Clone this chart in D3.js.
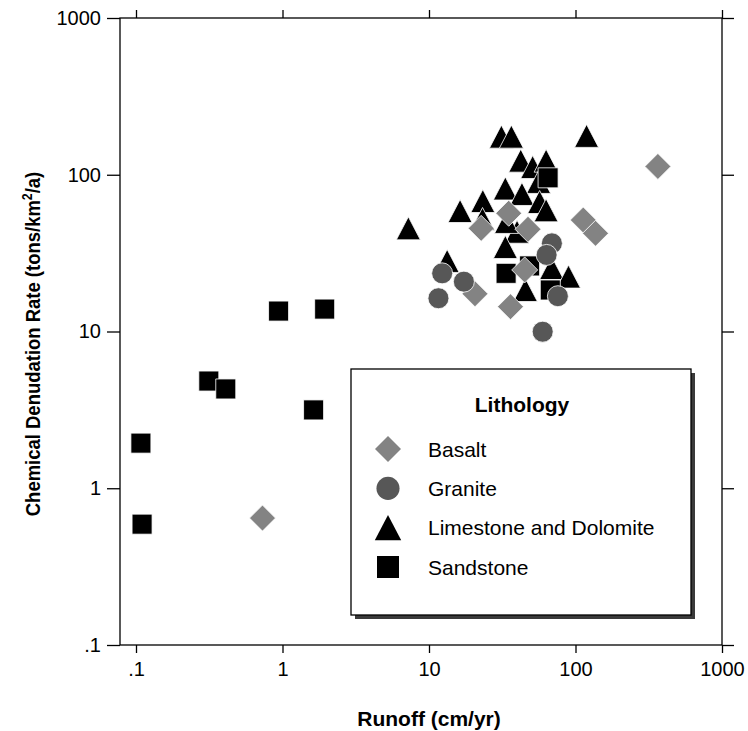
<!DOCTYPE html>
<html>
<head>
<meta charset="utf-8">
<script src="https://cdn.jsdelivr.net/npm/d3@7"></script>
<style>
  html, body { margin: 0; padding: 0; background: #fff; }
  svg { display: block; font-family: "Liberation Sans", Arial, Helvetica, sans-serif; }
</style>
</head>
<body>
<svg id="chart" width="748" height="731"></svg>
<script>
// ---- Data ----
const xTickValues = [0.1, 1, 10, 100, 1000];
const xTickLabels = [".1", "1", "10", "100", "1000"];
const yTickValues = [0.1, 1, 10, 100, 1000];
const yTickLabels = [".1", "1", "10", "100", "1000"];

const seriesNames = ["Basalt", "Granite", "Limestone and Dolomite", "Sandstone"];

const basaltRunoff = [0.73, 365, 35, 22.7, 47.4, 113, 137, 20.6, 45, 36];
const basaltRate   = [0.645, 113, 56.8, 45.5, 44.9, 51.4, 42.3, 17.4, 24.7, 14.4];

const graniteRunoff = [12.3, 17.3, 11.6, 69, 63.5, 75.8, 59.7];
const graniteRate   = [23.5, 20.8, 16.3, 36.5, 30.8, 16.8, 9.97];

const limestoneRunoff = [7.23, 16.3, 23.3, 23.2, 31.2, 36.5, 119, 42.3, 51, 63, 56, 33.2, 43.1, 56.9, 63, 39.9, 33.2, 13.3, 68.7, 89.6, 45.5, 33.8];
const limestoneRate   = [45.5, 58.7, 68, 52.2, 175, 175, 177, 123, 112, 123, 90, 81.7, 75.4, 67, 59.3, 43.3, 34.6, 28.2, 25.4, 22.4, 18.4, 50];

const sandstoneRunoff = [0.108, 0.11, 0.314, 0.41, 0.94, 1.94, 1.63, 65, 33.6, 48.6, 67.3];
const sandstoneRate   = [1.94, 0.59, 4.83, 4.3, 13.5, 13.9, 3.16, 95.6, 23.5, 26.2, 18.4];

// ---- Layout ----
const svg = d3.select("#chart");
const frame = { left: 120, right: 722, top: 18, bottom: 645 };

const x = d3.scaleLog().domain([0.1, 1000]).range([136, 722]);
const y = d3.scaleLog().domain([0.1, 1000]).range([645, 18]);

const styles = {
  Basalt: { shape: "diamond", fill: "#838383" },
  Granite: { shape: "circle", fill: "#575757" },
  "Limestone and Dolomite": { shape: "triangle", fill: "#000" },
  Sandstone: { shape: "square", fill: "#000" }
};

function shapePath(shape, s) {
  switch (shape) {
    case "diamond": { const r = 13 * s; return `M0,${-r}L${r},0L0,${r}L${-r},0Z`; }
    case "circle": { const r = 10.5 * s; return `M${r},0A${r},${r} 0 1,1 ${-r},0A${r},${r} 0 1,1 ${r},0Z`; }
    case "triangle": { const w = 12 * s, h = 11.5 * s; return `M0,${-h}L${w},${h}L${-w},${h}Z`; }
    case "square": { const r = 10 * s; return `M${-r},${-r}H${r}V${r}H${-r}Z`; }
  }
}

// ---- Frame and axes ----
const axisG = svg.append("g");

axisG.append("g").attr("transform", `translate(0,${frame.bottom})`)
  .call(d3.axisBottom(x).tickValues(xTickValues).tickFormat((d, i) => xTickLabels[i]).tickSize(8).tickPadding(9));
axisG.append("g").attr("transform", `translate(0,${frame.top})`)
  .call(d3.axisTop(x).tickValues(xTickValues).tickFormat("").tickSize(8));
axisG.append("g").attr("transform", `translate(${frame.left},0)`)
  .call(d3.axisLeft(y).tickValues(yTickValues).tickFormat((d, i) => yTickLabels[i]).tickSize(13).tickPadding(6));
axisG.append("g").attr("transform", `translate(${frame.right},0)`)
  .call(d3.axisRight(y).tickValues(yTickValues).tickFormat("").tickSize(12));

axisG.selectAll(".domain").remove();
axisG.selectAll(".tick line").attr("stroke", "#000").attr("stroke-width", 1.3);
axisG.selectAll(".tick text").attr("fill", "#000").attr("font-size", 20)
  .attr("font-family", "'Liberation Sans', Arial, sans-serif");

svg.append("rect")
  .attr("x", frame.left).attr("y", frame.top)
  .attr("width", frame.right - frame.left).attr("height", frame.bottom - frame.top)
  .attr("fill", "none").attr("stroke", "#000").attr("stroke-width", 1.3);

// ---- Axis titles ----
svg.append("text")
  .attr("x", 429).attr("y", 726)
  .attr("text-anchor", "middle")
  .attr("font-size", 21).attr("font-weight", "bold")
  .text("Runoff (cm/yr)");

const yTitle = svg.append("text")
  .attr("transform", "translate(40,344) rotate(-90) scale(0.88,1)")
  .attr("text-anchor", "middle")
  .attr("font-size", 21).attr("font-weight", "bold");
yTitle.append("tspan").text("Chemical Denudation Rate (tons/km");
yTitle.append("tspan").attr("font-size", 14).attr("dy", -8).text("2");
yTitle.append("tspan").attr("dy", 8).text("/a)");

// ---- Points ----
const series = [
  { name: "Limestone and Dolomite", xs: limestoneRunoff, ys: limestoneRate },
  { name: "Sandstone", xs: sandstoneRunoff, ys: sandstoneRate },
  { name: "Basalt", xs: basaltRunoff, ys: basaltRate },
  { name: "Granite", xs: graniteRunoff, ys: graniteRate }
];

const plotG = svg.append("g");
series.forEach(s => {
  const st = styles[s.name];
  const pts = s.xs.map((v, i) => ({ x: v, y: s.ys[i] }));
  plotG.append("g").selectAll("path").data(pts).join("path")
    .attr("transform", d => `translate(${x(d.x)},${y(d.y)})`)
    .attr("d", shapePath(st.shape, 1))
    .attr("fill", st.fill)
    .attr("stroke", "#fff").attr("stroke-width", 0.8);
});

// ---- Legend ----
const lg = { x: 351, y: 369, w: 340, h: 246 };
const legend = svg.append("g");
legend.append("rect")
  .attr("x", lg.x + 4).attr("y", lg.y + 4).attr("width", lg.w).attr("height", lg.h)
  .attr("fill", "#3a3a3a");
legend.append("rect")
  .attr("x", lg.x).attr("y", lg.y).attr("width", lg.w).attr("height", lg.h)
  .attr("fill", "#fff").attr("stroke", "#000").attr("stroke-width", 1.3);
legend.append("text")
  .attr("x", 522).attr("y", 412)
  .attr("text-anchor", "middle").attr("font-size", 21).attr("font-weight", "bold")
  .text("Lithology");

const rowY = d3.scalePoint().domain(seriesNames).range([449, 567]);
seriesNames.forEach(name => {
  const st = styles[name];
  legend.append("path")
    .attr("transform", `translate(388,${rowY(name)})`)
    .attr("d", shapePath(st.shape, name === "Basalt" ? 1.0 : 1.1))
    .attr("fill", st.fill);
  legend.append("text")
    .attr("x", 428).attr("y", rowY(name) + 7.5)
    .attr("font-size", 21)
    .text(name);
});
</script>
</body>
</html>
